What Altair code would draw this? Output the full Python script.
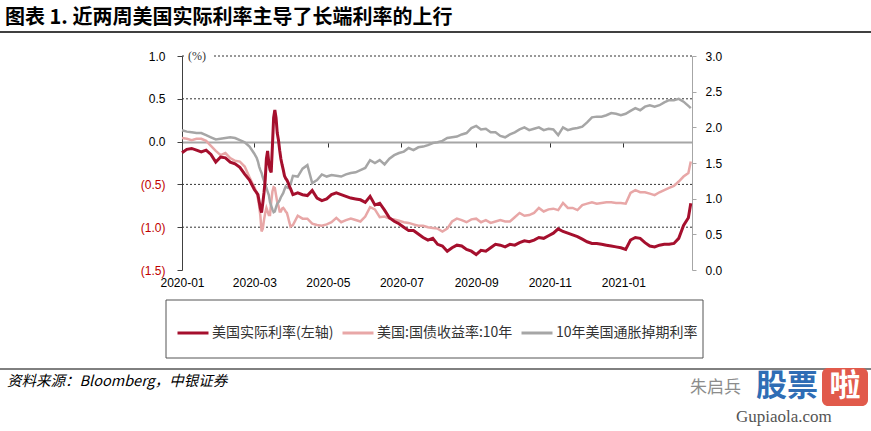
import altair as alt
import pandas as pd

# ---------------- data ----------------
dates = (
    ["2020-01-01", "2020-01-05", "2020-01-09", "2020-01-13", "2020-01-17", "2020-01-21", "2020-01-25", "2020-01-29",
     "2020-02-02", "2020-02-06", "2020-02-10", "2020-02-14", "2020-02-18", "2020-02-22", "2020-02-26"]
    + ["2020-03-%02d" % d for d in range(1, 32)]
    + ["2020-04-02", "2020-04-06", "2020-04-10", "2020-04-14", "2020-04-18", "2020-04-22", "2020-04-26", "2020-04-30",
       "2020-05-04", "2020-05-08", "2020-05-12", "2020-05-16", "2020-05-20", "2020-05-24", "2020-05-28",
       "2020-06-01", "2020-06-05", "2020-06-09", "2020-06-13", "2020-06-17", "2020-06-21", "2020-06-25", "2020-06-29",
       "2020-07-03", "2020-07-07", "2020-07-11", "2020-07-15", "2020-07-19", "2020-07-23", "2020-07-27", "2020-07-31",
       "2020-08-04", "2020-08-08", "2020-08-12", "2020-08-16", "2020-08-20", "2020-08-24", "2020-08-28",
       "2020-09-01", "2020-09-05", "2020-09-09", "2020-09-13", "2020-09-17", "2020-09-21", "2020-09-25", "2020-09-29",
       "2020-10-03", "2020-10-07", "2020-10-11", "2020-10-15", "2020-10-19", "2020-10-23", "2020-10-27", "2020-10-31",
       "2020-11-04", "2020-11-08", "2020-11-12", "2020-11-16", "2020-11-20", "2020-11-24", "2020-11-28",
       "2020-12-02", "2020-12-06", "2020-12-10", "2020-12-14", "2020-12-18", "2020-12-22", "2020-12-26", "2020-12-30",
       "2021-01-03", "2021-01-07", "2021-01-11", "2021-01-15", "2021-01-19", "2021-01-23", "2021-01-27", "2021-01-31",
       "2021-02-04", "2021-02-08", "2021-02-12", "2021-02-16", "2021-02-20", "2021-02-24", "2021-02-26"]
)

real_rate = [
    -0.13, -0.09, -0.08, -0.10, -0.12, -0.10, -0.15, -0.24,
    -0.18, -0.19, -0.24, -0.26, -0.30, -0.38, -0.45,
    # March (daily)
    -0.56, -0.58, -0.60, -0.62, -0.70, -0.78, -0.83, -0.72, -0.60, -0.45,
    -0.20, -0.11, -0.25, -0.33, -0.36, -0.05, 0.28, 0.37, 0.28, 0.10,
    0.02, -0.10, -0.20, -0.27, -0.33, -0.40, -0.43, -0.45, -0.48, -0.52, -0.55,
    # Apr .. Dec
    -0.62, -0.60, -0.62, -0.63, -0.57, -0.66, -0.69, -0.67,
    -0.62, -0.60, -0.62, -0.64, -0.66, -0.67, -0.68,
    -0.71, -0.64, -0.74, -0.72, -0.80, -0.89, -0.93, -0.96,
    -1.00, -1.04, -1.04, -1.08, -1.12, -1.15, -1.13, -1.20,
    -1.22, -1.28, -1.24, -1.21, -1.22, -1.26, -1.28,
    -1.32, -1.27, -1.28, -1.24, -1.20, -1.21, -1.23, -1.20,
    -1.21, -1.18, -1.16, -1.17, -1.15, -1.12, -1.13, -1.10,
    -1.07, -1.02, -1.05, -1.07, -1.09, -1.11, -1.14,
    -1.17, -1.19, -1.19, -1.20, -1.21, -1.22, -1.23, -1.24,
    # 2021
    -1.26, -1.15, -1.12, -1.13, -1.18, -1.22, -1.23, -1.21,
    -1.20, -1.20, -1.19, -1.13, -0.98, -0.89, -0.72,
]

ust10y = [
    1.85, 1.84, 1.82, 1.84, 1.84, 1.81, 1.74, 1.67,
    1.61, 1.64, 1.57, 1.53, 1.52, 1.45, 1.30,
    # March (daily)
    1.16, 1.12, 1.09, 1.00, 0.90, 0.76, 0.54, 0.58, 0.70, 0.80,
    0.87, 0.82, 0.77, 0.77, 0.95, 1.10, 1.16, 1.15, 1.05, 0.95,
    0.90, 0.82, 0.82, 0.86, 0.87, 0.85, 0.82, 0.80, 0.74, 0.67, 0.61,
    # Apr .. Dec
    0.63, 0.76, 0.72, 0.72, 0.65, 0.63, 0.62, 0.64,
    0.67, 0.73, 0.67, 0.70, 0.72, 0.70, 0.68,
    0.75, 0.88, 0.85, 0.74, 0.75, 0.72, 0.71, 0.69,
    0.67, 0.66, 0.64, 0.62, 0.62, 0.60, 0.59, 0.58,
    0.54, 0.58, 0.68, 0.72, 0.70, 0.67, 0.71,
    0.72, 0.67, 0.70, 0.66, 0.68, 0.70, 0.68, 0.68,
    0.74, 0.80, 0.76, 0.77, 0.80, 0.87, 0.82, 0.85,
    0.86, 0.84, 0.94, 0.87, 0.87, 0.84, 0.91,
    0.93, 0.95, 0.93, 0.94, 0.95, 0.95, 0.94, 0.94,
    # 2021
    0.93, 1.08, 1.12, 1.09, 1.09, 1.07, 1.05, 1.09,
    1.12, 1.15, 1.18, 1.24, 1.31, 1.36, 1.52,
]

breakeven = [
    1.96, 1.94, 1.93, 1.92, 1.92, 1.89, 1.86, 1.83,
    1.84, 1.85, 1.86, 1.85, 1.82, 1.79, 1.73,
    # March (daily)
    1.63, 1.60, 1.57, 1.52, 1.45, 1.40, 1.36, 1.30, 1.25, 1.21,
    1.15, 1.10, 1.05, 0.95, 0.90, 0.85, 0.81, 0.82, 0.88, 0.93,
    0.95, 0.98, 1.02, 1.05, 1.08, 1.13, 1.17, 1.16, 1.15, 1.17, 1.20,
    # Apr .. Dec
    1.32, 1.31, 1.42, 1.47, 1.22, 1.26, 1.34, 1.31,
    1.33, 1.32, 1.31, 1.34, 1.36, 1.37, 1.40,
    1.43, 1.54, 1.50, 1.54, 1.48, 1.56, 1.61, 1.64,
    1.66, 1.71, 1.68, 1.72, 1.73, 1.75, 1.78, 1.79,
    1.81, 1.85, 1.86, 1.87, 1.90, 1.92, 1.99,
    2.02, 1.97, 1.98, 1.93, 1.93, 1.88, 1.86, 1.90,
    1.93, 1.97, 2.00, 1.96, 1.98, 2.00, 1.96, 1.98,
    1.97, 1.89, 2.00, 1.96, 1.98, 1.99, 2.01,
    2.07, 2.14, 2.15, 2.15, 2.17, 2.20, 2.19, 2.17,
    # 2021
    2.19, 2.23, 2.27, 2.24, 2.29, 2.31, 2.29, 2.31,
    2.35, 2.38, 2.38, 2.40, 2.36, 2.30, 2.27,
]

series_names = ["美国实际利率(左轴)", "美国:国债收益率:10年", "10年美国通胀掉期利率"]
series_colors = ["#A50F2D", "#E8A7A7", "#A6A6A6"]

left_ticks = [-1.5, -1.0, -0.5, 0.0, 0.5, 1.0]
left_grid = [1.0, 0.5, -0.5, -1.0]
right_ticks = [0.0, 0.5, 1.0, 1.5, 2.0, 2.5, 3.0]
x_tick_months = [(2020, 1), (2020, 3), (2020, 5), (2020, 7), (2020, 9), (2020, 11), (2021, 1)]

title_text = "图表 1. 近两周美国实际利率主导了长端利率的上行"
source_text = "资料来源：Bloomberg，中银证券"
unit_text = "(%)"

assert len(dates) == len(real_rate) == len(ust10y) == len(breakeven)

n = len(dates)
df = pd.DataFrame({
    "date": dates * 3,
    "series": [series_names[0]] * n + [series_names[1]] * n + [series_names[2]] * n,
    "value": real_rate + ust10y + breakeven,
})

# ---------------- layout ----------------
W, H = 510, 214
PAD = {"left": 182, "top": 56, "right": 179, "bottom": 161}
NUM_FONT = "Liberation Sans"
CJK_FONT = "Noto Sans CJK SC"

x_axis = alt.Axis(
    values=[alt.DateTime(year=y, month=m, date=1, utc=True) for y, m in x_tick_months],
    format="%Y-%m", orient="bottom", offset=-128, title=None, grid=False,
    domainColor="#A6A6A6", domainWidth=2, tickColor="#333333", tickSize=5,
    labelPadding=130, labelFont=NUM_FONT, labelFontSize=12, labelColor="#000000",
    labelFlush=False, labelOverlap=False,
)
X = alt.X("date:T", axis=x_axis,
          scale=alt.Scale(type="utc", domain=[alt.DateTime(year=2020, month=1, date=1, utc=True),
                                               alt.DateTime(year=2021, month=2, date=27, utc=True)]))

left_scale = alt.Scale(domain=[-1.5, 1.0], nice=False, zero=False)
right_scale = alt.Scale(domain=[0, 3], nice=False, zero=False)

left_axis = alt.Axis(
    orient="left", values=left_ticks, title=None, grid=False,
    labelExpr="datum.value < 0 ? '(' + format(-datum.value, '.1f') + ')' : format(datum.value, '.1f')",
    labelColor={"condition": {"test": "datum.value < 0", "value": "#C00000"}, "value": "#000000"},
    domainColor="#404040", tickColor="#404040", tickSize=5, labelPadding=12,
    labelFont=NUM_FONT, labelFontSize=12,
)
right_axis = alt.Axis(
    orient="right", values=right_ticks, format=".1f", title=None, grid=False,
    domainColor="#A6A6A6", tickColor="#A6A6A6", tickSize=4, labelPadding=9,
    labelFont=NUM_FONT, labelFontSize=12, labelColor="#000000",
)

legend = alt.Legend(
    orient="none", legendX=-6, legendY=260, direction="horizontal", title=None,
    symbolType="stroke", symbolSize=961, symbolStrokeWidth=3,
    labelFont=CJK_FONT, labelFontSize=14, labelColor="#333333", labelOffset=2,
    columnPadding=2, padding=0, labelLimit=300,
)
color = alt.Color("series:N", scale=alt.Scale(domain=series_names, range=series_colors), legend=legend)

one = pd.DataFrame({"a": [0]})

grid = alt.Chart(pd.DataFrame({"g": left_grid})).mark_rule(
    strokeDash=[2, 2], color="#333333", strokeWidth=1
).encode(y=alt.Y("g:Q", scale=left_scale, axis=None))

unit_bg = alt.Chart(one).mark_rect(fill="white").encode(
    x=alt.value(3), x2=alt.value(32), y=alt.value(-6), y2=alt.value(6))
unit = alt.Chart(one).mark_text(
    text=unit_text, font="Liberation Serif", fontSize=12, align="left", baseline="middle", color="#333333"
).encode(x=alt.value(6), y=alt.value(0))

right_lines = alt.Chart(df).transform_filter(
    alt.FieldOneOfPredicate(field="series", oneOf=series_names[1:])
).mark_line(strokeWidth=2.5).encode(
    x=X, y=alt.Y("value:Q", scale=right_scale, axis=right_axis), color=color,
    order=alt.Order("date:T"),
)

red_line = alt.Chart(df).transform_filter(
    alt.FieldEqualPredicate(field="series", equal=series_names[0])
).mark_line(strokeWidth=3).encode(
    x=X, y=alt.Y("value:Q", scale=left_scale, axis=left_axis), color=color,
)

title = alt.Chart(one).mark_text(
    text=title_text, font=CJK_FONT, fontSize=20, fontWeight="bold", align="left", baseline="middle", color="#000000"
).encode(x=alt.value(-177), y=alt.value(-38))
top_rule = alt.Chart(one).mark_rule(color="#000000", strokeWidth=1.5).encode(
    x=alt.value(-182), x2=alt.value(689), y=alt.value(-24))
bottom_rule = alt.Chart(one).mark_rule(color="#000000", strokeWidth=1).encode(
    x=alt.value(-182), x2=alt.value(689), y=alt.value(313))
legend_box = alt.Chart(one).mark_rect(fillOpacity=0, stroke="#555555", strokeWidth=1).encode(
    x=alt.value(-16), x2=alt.value(521), y=alt.value(244), y2=alt.value(302))
source = alt.Chart(one).mark_text(
    text=source_text, font=CJK_FONT, fontSize=14.5, fontStyle="italic", align="left", baseline="middle", color="#000000"
).encode(x=alt.value(-175), y=alt.value(326))

# watermark
wm1 = alt.Chart(one).mark_text(text="朱启兵", font=CJK_FONT, fontSize=17, align="left", baseline="middle",
                               color="#8C8C8C").encode(x=alt.value(508), y=alt.value(332))
wm2 = alt.Chart(one).mark_text(text="股票", font=CJK_FONT, fontSize=31, fontWeight="bold", align="left",
                               baseline="middle", color="#2F6DB5").encode(x=alt.value(574), y=alt.value(331))
wm_box = alt.Chart(one).mark_rect(fill="#E15A4B", cornerRadius=6).encode(
    x=alt.value(640), x2=alt.value(686), y=alt.value(312), y2=alt.value(350))
wm3 = alt.Chart(one).mark_text(text="啦", font=CJK_FONT, fontSize=31, fontWeight="bold", align="center",
                               baseline="middle", color="#FFFFFF").encode(x=alt.value(663), y=alt.value(331))
wm4 = alt.Chart(one).mark_text(text="Gupiaola.com", font="Liberation Serif", fontSize=17, align="left",
                               baseline="middle", color="#555555").encode(x=alt.value(554), y=alt.value(361))

chart = alt.layer(
    grid, unit_bg, unit, right_lines, red_line,
    title, top_rule, bottom_rule, legend_box, source, wm1, wm2, wm_box, wm3, wm4,
).resolve_scale(y="independent").properties(
    width=W, height=H, padding=PAD,
    autosize=alt.AutoSizeParams(type="none"),
    background="white",
).configure_view(stroke=None)

chart.save("out.html", embed_options={"renderer": "svg", "actions": False})
